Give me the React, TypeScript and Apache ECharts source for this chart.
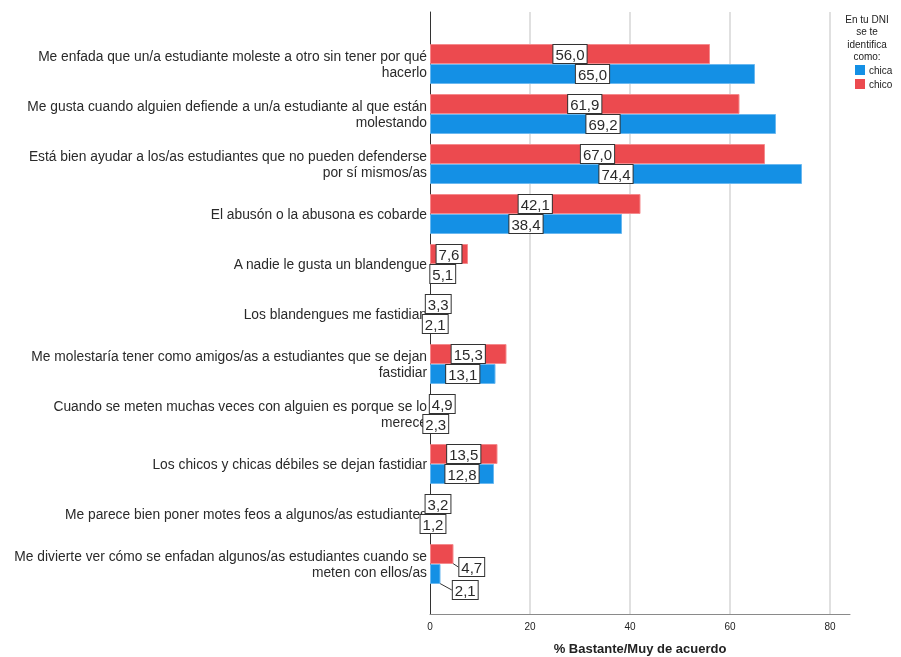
import React, { useEffect, useRef } from "react";
import * as echarts from "echarts";

const categories: string[] = [
  "Me enfada que un/a estudiante moleste a otro sin tener por qué\nhacerlo",
  "Me gusta cuando alguien defiende a un/a estudiante al que están\nmolestando",
  "Está bien ayudar a los/as estudiantes que no pueden defenderse\npor sí mismos/as",
  "El abusón o la abusona es cobarde",
  "A nadie le gusta un blandengue",
  "Los blandengues me fastidian",
  "Me molestaría tener como amigos/as a estudiantes que se dejan\nfastidiar",
  "Cuando se meten muchas veces con alguien es porque se lo\nmerece",
  "Los chicos y chicas débiles se dejan fastidiar",
  "Me parece bien poner motes feos a algunos/as estudiantes",
  "Me divierte ver cómo se enfadan algunos/as estudiantes cuando se\nmeten con ellos/as",
];

const chicoValues: number[] = [56.0, 61.9, 67.0, 42.1, 7.6, 3.3, 15.3, 4.9, 13.5, 3.2, 4.7];
const chicaValues: number[] = [65.0, 69.2, 74.4, 38.4, 5.1, 2.1, 13.1, 2.3, 12.8, 1.2, 2.1];

const xTicks: number[] = [0, 20, 40, 60, 80];

const RED = "#ec4a4f";
const BLUE = "#1490e5";
const FONT = "'Liberation Sans', Arial, sans-serif";

export default function App() {
  const ref = useRef<HTMLDivElement>(null);

  useEffect(() => {
    if (!ref.current) return;
    const chart = echarts.init(ref.current, null, { renderer: "svg" });

    const labelStyle = {
      show: true,
      position: "inside",
      formatter: (p: any) => Number(p.value).toFixed(1).replace(".", ","),
      color: "#2a2a2a",
      fontSize: 15,
      fontFamily: FONT,
      backgroundColor: "#fff",
      borderColor: "#333",
      borderWidth: 1,
      padding: [2, 2, 1, 2],
    };

    const lastIdx = categories.length - 1;

    chart.setOption({
      animation: false,
      textStyle: { fontFamily: FONT },
      grid: [
        { left: 430, right: 51, top: 12, bottom: 43, outerBoundsMode: "none", containLabel: false },
        { left: 430, right: 51, top: 39, bottom: 68, outerBoundsMode: "none", containLabel: false },
      ],
      xAxis: [
        {
          gridIndex: 0,
          type: "value",
          min: 0,
          max: 84,
          interval: 20,
          axisLine: { show: true, lineStyle: { color: "#8a8a8a", width: 1 } },
          axisTick: { show: false },
          axisLabel: {
            fontSize: 10,
            color: "#222",
            margin: 7,
            showMaxLabel: false,
            formatter: (v: number) => (xTicks.includes(v) ? String(v) : ""),
          },
          splitLine: {
            show: true,
            showMinLine: false,
            showMaxLine: false,
            lineStyle: { color: "#d6d6d6", width: 1.5 },
          },
          name: "% Bastante/Muy de acuerdo",
          nameLocation: "middle",
          nameGap: 28,
          nameTextStyle: { fontSize: 13, fontWeight: "bold", color: "#222" },
        },
        {
          gridIndex: 1,
          type: "value",
          min: 0,
          max: 84,
          show: false,
        },
      ],
      yAxis: [
        {
          gridIndex: 0,
          type: "value",
          min: 0,
          max: 1,
          axisLine: { show: true, lineStyle: { color: "#333", width: 1 } },
          axisTick: { show: false },
          axisLabel: { show: false },
          splitLine: { show: false },
        },
        {
          gridIndex: 1,
          type: "category",
          inverse: true,
          data: categories,
          axisLine: { show: false },
          axisTick: { show: false },
          axisLabel: {
            fontSize: 13.8,
            color: "#2a2a2a",
            margin: 3,
            lineHeight: 16,
            align: "right",
          },
          splitLine: { show: false },
        },
      ],
      graphic: [
        {
          type: "text",
          x: 867,
          y: 13,
          style: {
            text: "En tu DNI\nse te\nidentifica\ncomo:",
            fontSize: 10,
            lineHeight: 12.5,
            fill: "#222",
            align: "center",
            fontFamily: FONT,
          },
        },
        { type: "rect", shape: { x: 855, y: 65, width: 10, height: 10 }, style: { fill: BLUE } },
        {
          type: "text",
          x: 869,
          y: 70,
          style: { text: "chica", fontSize: 10, fill: "#222", verticalAlign: "middle", fontFamily: FONT },
        },
        { type: "rect", shape: { x: 855, y: 79, width: 10, height: 10 }, style: { fill: RED } },
        {
          type: "text",
          x: 869,
          y: 84,
          style: { text: "chico", fontSize: 10, fill: "#222", verticalAlign: "middle", fontFamily: FONT },
        },
      ],
      series: [
        {
          name: "chico",
          type: "bar",
          xAxisIndex: 1,
          yAxisIndex: 1,
          data: chicoValues,
          itemStyle: { color: RED, borderColor: "#f58a8d", borderWidth: 1 },
          barWidth: 20,
          barGap: "0%",
          label: labelStyle,
          labelLine: { show: true, lineStyle: { color: "#333", width: 1 } },
          labelLayout: (p: any) =>
            p.dataIndex === lastIdx ? { dx: 30, dy: 13 } : {},
          z: 3,
        },
        {
          name: "chica",
          type: "bar",
          xAxisIndex: 1,
          yAxisIndex: 1,
          data: chicaValues,
          itemStyle: { color: BLUE, borderColor: "#6ab8f0", borderWidth: 1 },
          barWidth: 20,
          barGap: "0%",
          label: labelStyle,
          labelLine: { show: true, lineStyle: { color: "#333", width: 1 } },
          labelLayout: (p: any) =>
            p.dataIndex === lastIdx ? { dx: 30, dy: 16 } : {},
          z: 3,
        },
      ],
    });

    return () => chart.dispose();
  }, []);

  return (
    <div
      ref={ref}
      style={{ position: "fixed", left: 0, top: 0, width: 901, height: 657 }}
    />
  );
}
